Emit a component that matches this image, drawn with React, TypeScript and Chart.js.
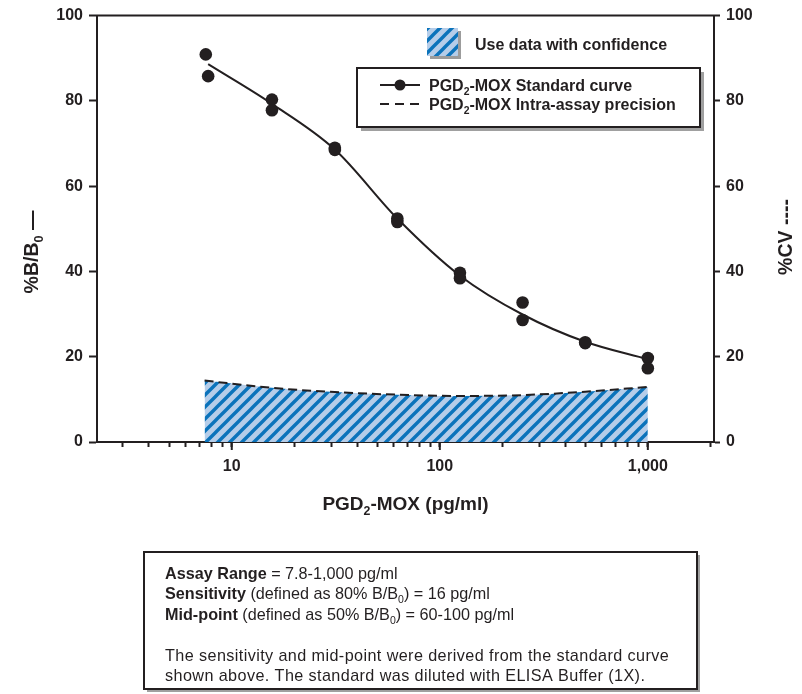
import React, { useEffect, useRef } from 'react';
import { Chart, registerables } from 'chart.js';

Chart.register(...registerables);

const FONT = '"Liberation Sans", Arial, Helvetica, sans-serif';
const INK = '#231f20';

// Standard curve: duplicate wells (pg/ml, %B/B0)
const STD_CONC = [7.5, 7.7, 15.6, 15.6, 31.3, 31.3, 62.5, 62.5, 125, 125, 250, 250, 500, 500, 1000, 1000];
const STD_BB0 = [90.9, 85.8, 80.3, 77.8, 69.0, 68.5, 52.4, 51.6, 39.7, 38.4, 32.7, 28.6, 23.4, 23.2, 19.7, 17.3];

// Fitted standard curve
const FIT_CONC = [7.7, 15.6, 31.3, 62.5, 125, 250, 500, 1000];
const FIT_BB0 = [88.6, 79.3, 68.6, 52.4, 39.0, 29.9, 23.5, 19.4];

// Intra-assay precision (%CV)
const CV_CONC = [7.4, 15.6, 31.3, 62.5, 125, 250, 500, 1000];
const CV_PCT = [14.4, 12.7, 11.7, 11.1, 10.8, 11.0, 11.8, 12.9];

// Axes
const X_MIN = 2.25;
const X_MAX = 2080;
const X_TICKS = [3, 4, 5, 6, 7, 8, 9, 10, 20, 30, 40, 50, 60, 70, 80, 90, 100, 200, 300, 400, 500, 600, 700, 800, 900, 1000, 2000];
const X_LABELED = [10, 100, 1000];
const Y_TICKS = [0, 20, 40, 60, 80, 100];

const LEGEND_CONFIDENCE = 'Use data with confidence';
const LEGEND_STD = 'Standard curve';
const LEGEND_CV = 'Intra-assay precision';

type Seg = { t: string; b?: boolean; sub?: boolean };

const INFO_LINES: Seg[][] = [
  [{ t: 'Assay Range', b: true }, { t: ' = 7.8-1,000 pg/ml' }],
  [{ t: 'Sensitivity', b: true }, { t: ' (defined as 80% B/B' }, { t: '0', sub: true }, { t: ') = 16 pg/ml' }],
  [{ t: 'Mid-point', b: true }, { t: ' (defined as 50% B/B' }, { t: '0', sub: true }, { t: ') = 60-100 pg/ml' }],
  [],
  [{ t: 'The sensitivity and mid-point were derived from the standard curve' }],
  [{ t: 'shown above. The standard was diluted with ELISA Buffer (1X).' }],
];

function fontStr(bold: boolean | undefined, size: number) {
  return `${bold ? 'bold ' : ''}${size}px ${FONT}`;
}

function measureRich(ctx: CanvasRenderingContext2D, segs: Seg[], size: number) {
  let w = 0;
  for (const s of segs) {
    ctx.font = fontStr(s.b, s.sub ? size * 0.65 : size);
    w += ctx.measureText(s.t).width;
  }
  return w;
}

// y is the baseline
function drawRich(ctx: CanvasRenderingContext2D, segs: Seg[], x: number, y: number, size: number, align: 'left' | 'center' = 'left') {
  const w = measureRich(ctx, segs, size);
  let cx = align === 'center' ? x - w / 2 : x;
  ctx.textAlign = 'left';
  ctx.textBaseline = 'alphabetic';
  for (const s of segs) {
    const fs = s.sub ? size * 0.65 : size;
    ctx.font = fontStr(s.b, fs);
    ctx.fillText(s.t, cx, y + (s.sub ? size * 0.25 : 0));
    cx += ctx.measureText(s.t).width;
  }
  return w;
}

function makeHatch(): CanvasPattern | string {
  const c = document.createElement('canvas');
  c.width = 12;
  c.height = 12;
  const g = c.getContext('2d');
  if (!g) return '#7fa9d6';
  g.fillStyle = '#b5cde9';
  g.fillRect(0, 0, 12, 12);
  g.strokeStyle = '#0b73bb';
  g.lineWidth = 3.4;
  g.beginPath();
  for (const o of [-12, 0, 12]) {
    g.moveTo(o - 3, 15);
    g.lineTo(o + 15, -3);
  }
  g.stroke();
  const p = g.createPattern(c, 'repeat');
  return p || '#7fa9d6';
}

export default function App() {
  const ref = useRef<HTMLCanvasElement>(null);

  useEffect(() => {
    const canvas = ref.current;
    if (!canvas) return;
    const hatch = makeHatch();

    const decorations = {
      id: 'decorations',
      afterDraw(chart: any) {
        const ctx: CanvasRenderingContext2D = chart.ctx;
        const area = chart.chartArea;
        const xs = chart.scales.x;
        ctx.save();
        ctx.fillStyle = INK;
        ctx.strokeStyle = INK;

        // top frame line
        ctx.lineWidth = 2;
        ctx.beginPath();
        ctx.moveTo(area.left - 1, area.top);
        ctx.lineTo(area.right + 1, area.top);
        ctx.stroke();

        // longer major ticks on x
        for (const v of X_LABELED) {
          const px = xs.getPixelForValue(v);
          ctx.beginPath();
          ctx.moveTo(px, area.bottom);
          ctx.lineTo(px, area.bottom + 8);
          ctx.stroke();
        }

        // x title
        drawRich(ctx, [{ t: 'PGD', b: true }, { t: '2', b: true, sub: true }, { t: '-MOX (pg/ml)', b: true }],
          (area.left + area.right) / 2, 510, 19, 'center');

        // left y title (rotated)
        ctx.save();
        ctx.translate(31, 252);
        ctx.rotate(-Math.PI / 2);
        drawRich(ctx, [{ t: '%B/B', b: true }, { t: '0', b: true, sub: true }, { t: ' —', b: true }], 0, 7, 19.5, 'center');
        ctx.restore();

        // right y title (rotated)
        ctx.save();
        ctx.translate(785, 237);
        ctx.rotate(-Math.PI / 2);
        drawRich(ctx, [{ t: '%CV ----', b: true }], 0, 7, 19.5, 'center');
        ctx.restore();

        // confidence swatch
        ctx.fillStyle = '#9c9c9c';
        ctx.fillRect(430, 31, 31, 28);
        ctx.fillStyle = hatch as any;
        ctx.fillRect(427, 28, 31, 28);
        ctx.fillStyle = INK;
        drawRich(ctx, [{ t: LEGEND_CONFIDENCE, b: true }], 475, 50, 16);

        // legend box
        ctx.fillStyle = '#a0a0a0';
        ctx.fillRect(361, 72, 343, 59);
        ctx.fillStyle = '#ffffff';
        ctx.fillRect(357, 68, 343, 59);
        ctx.lineWidth = 2;
        ctx.strokeStyle = INK;
        ctx.strokeRect(357, 68, 343, 59);

        // entry 1
        ctx.beginPath();
        ctx.moveTo(380, 85);
        ctx.lineTo(420, 85);
        ctx.stroke();
        ctx.beginPath();
        ctx.arc(400, 85, 5.5, 0, Math.PI * 2);
        ctx.fillStyle = INK;
        ctx.fill();
        drawRich(ctx, [{ t: 'PGD', b: true }, { t: '2', b: true, sub: true }, { t: '-MOX ' + LEGEND_STD, b: true }], 429, 90.5, 16);

        // entry 2
        ctx.save();
        ctx.setLineDash([9, 6]);
        ctx.beginPath();
        ctx.moveTo(380, 104);
        ctx.lineTo(420, 104);
        ctx.stroke();
        ctx.restore();
        drawRich(ctx, [{ t: 'PGD', b: true }, { t: '2', b: true, sub: true }, { t: '-MOX ' + LEGEND_CV, b: true }], 429, 109.5, 16);

        // info box
        ctx.fillStyle = '#a0a0a0';
        ctx.fillRect(147, 555, 553, 137);
        ctx.fillStyle = '#ffffff';
        ctx.fillRect(144, 552, 553, 137);
        ctx.lineWidth = 2;
        ctx.strokeRect(144, 552, 553, 137);
        ctx.fillStyle = INK;
        const baselines = [579, 599, 620, 640, 661, 681];
        INFO_LINES.forEach((line, i) => {
          if (!line.length) return;
          (ctx as any).letterSpacing = i >= 4 ? '0.4px' : '0px';
          drawRich(ctx, line, 165, baselines[i], 16.2);
        });
        (ctx as any).letterSpacing = '0px';

        ctx.restore();
      },
    };

    const chart = new Chart(canvas, {
      type: 'line',
      data: {
        datasets: [
          {
            label: 'PGD2-MOX Standard curve points',
            data: STD_CONC.map((x, i) => ({ x, y: STD_BB0[i] })),
            yAxisID: 'y',
            showLine: false,
            pointRadius: 6.3,
            pointBackgroundColor: INK,
            pointBorderWidth: 0,
            borderColor: INK,
          },
          {
            label: 'PGD2-MOX Standard curve',
            data: FIT_CONC.map((x, i) => ({ x, y: FIT_BB0[i] })),
            yAxisID: 'y',
            borderColor: INK,
            borderWidth: 2,
            pointRadius: 0,
            cubicInterpolationMode: 'monotone',
            fill: false,
          },
          {
            label: 'PGD2-MOX Intra-assay precision',
            data: CV_CONC.map((x, i) => ({ x, y: CV_PCT[i] })),
            yAxisID: 'y2',
            borderColor: INK,
            borderWidth: 2,
            borderDash: [9, 5],
            pointRadius: 0,
            cubicInterpolationMode: 'monotone',
            fill: 'origin',
            backgroundColor: hatch as any,
          },
        ],
      },
      options: {
        responsive: false,
        animation: false,
        devicePixelRatio: 1,
        layout: { padding: { top: 13, left: 0, right: 0, bottom: 0 } },
        plugins: {
          legend: { display: false },
          tooltip: { enabled: false },
        },
        scales: {
          x: {
            type: 'logarithmic',
            position: 'bottom',
            min: X_MIN,
            max: X_MAX,
            afterBuildTicks: (s: any) => {
              s.ticks = X_TICKS.map((v) => ({ value: v }));
            },
            afterFit: (s: any) => {
              s.height = 252;
            },
            ticks: {
              autoSkip: false,
              maxRotation: 0,
              minRotation: 0,
              padding: 10,
              color: INK,
              font: { family: FONT, size: 16, weight: 'bold' },
              callback: (v: any) => (X_LABELED.includes(Number(v)) ? Number(v).toLocaleString('en-US') : ''),
            },
            grid: { drawOnChartArea: false, tickLength: 5, tickWidth: 2, tickColor: INK },
            border: { display: true, width: 2, color: INK },
          },
          y: {
            type: 'linear',
            position: 'left',
            min: 0,
            max: 100,
            afterBuildTicks: (s: any) => {
              s.ticks = Y_TICKS.map((v) => ({ value: v }));
            },
            afterFit: (s: any) => {
              s.width = 97;
            },
            ticks: {
              padding: 6,
              color: INK,
              font: { family: FONT, size: 16, weight: 'bold' },
            },
            grid: { drawOnChartArea: false, tickLength: 8, tickWidth: 2, tickColor: INK },
            border: { display: true, width: 2, color: INK },
          },
          y2: {
            type: 'linear',
            position: 'right',
            min: 0,
            max: 100,
            afterBuildTicks: (s: any) => {
              s.ticks = Y_TICKS.map((v) => ({ value: v }));
            },
            afterFit: (s: any) => {
              s.width = 88;
            },
            ticks: {
              padding: 6,
              color: INK,
              font: { family: FONT, size: 16, weight: 'bold' },
            },
            grid: { drawOnChartArea: false, tickLength: 6, tickWidth: 2, tickColor: INK },
            border: { display: true, width: 2, color: INK },
          },
        },
      } as any,
      plugins: [decorations],
    });

    return () => chart.destroy();
  }, []);

  return (
    <div style={{ position: 'fixed', left: 0, top: 0, width: 802, height: 694, background: '#ffffff' }}>
      <canvas ref={ref} width={802} height={694} style={{ display: 'block', width: 802, height: 694 }} />
    </div>
  );
}
